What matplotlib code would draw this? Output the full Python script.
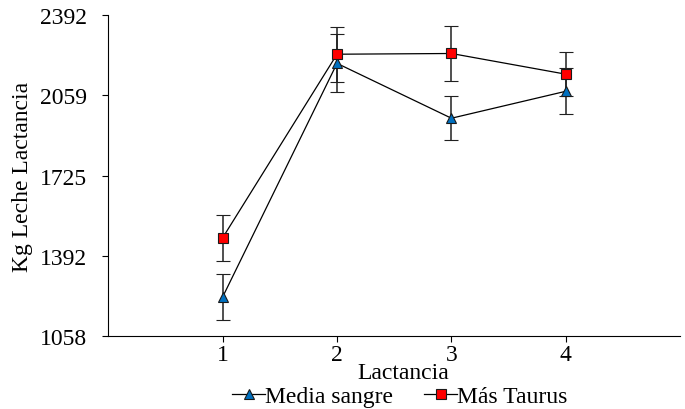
import matplotlib.pyplot as plt
from matplotlib.lines import Line2D

plt.rcParams['font.family'] = ['Liberation Serif', 'DejaVu Serif']

lactancia = [1, 2, 3, 4]
media_sangre = [1220, 2191, 1963, 2075]
media_sangre_err = [97, 120, 92, 95]
mas_taurus = [1466, 2229, 2232, 2146]
mas_taurus_err = [95, 114, 114, 91]
yticks = [1058, 1392, 1725, 2059, 2392]

fig = plt.figure(figsize=(6.85, 4.10), dpi=100)
ax = fig.add_axes([0.158, 0.178, 0.835, 0.783])

ax.errorbar(lactancia, media_sangre, yerr=media_sangre_err, color='black', lw=0.9,
            marker='^', ms=7, mfc='#0070C0', mec='#1a1a1a', mew=0.8,
            ecolor='#202020', elinewidth=1.1, capsize=5, capthick=1.1)
ax.errorbar(lactancia, mas_taurus, yerr=mas_taurus_err, color='black', lw=0.9,
            marker='s', ms=6.5, mfc='#FF0000', mec='#1a1a1a', mew=0.8,
            ecolor='#202020', elinewidth=1.1, capsize=5, capthick=1.1)

ax.set_xlim(0, 5)
ax.set_ylim(1058, 2392)
ax.set_xticks(lactancia)
ax.set_yticks(yticks)
ax.tick_params(labelsize=17, length=4, width=0.8)
ax.tick_params(axis='x', pad=2)
ax.tick_params(axis='y', pad=11)
for s in ['top', 'right']:
    ax.spines[s].set_visible(False)
ax.set_xlabel('Lactancia', fontsize=17)
ax.xaxis.set_label_coords(0.515, -0.082)
ax.set_ylabel('Kg Leche Lactancia', fontsize=17, labelpad=5)

handles = [
    Line2D([], [], color='black', lw=0.9, marker='^', ms=7, mfc='#0070C0', mec='#1a1a1a', mew=0.8),
    Line2D([], [], color='black', lw=0.9, marker='s', ms=6.5, mfc='#FF0000', mec='#1a1a1a', mew=0.8),
]
ax.legend(handles, ['Media sangre', 'Más Taurus'], loc='upper center',
          bbox_to_anchor=(0.51, -0.155), ncol=2, frameon=False, fontsize=17,
          handlelength=1.4, handletextpad=0.0, columnspacing=1.3, borderaxespad=0,
          borderpad=0)

fig.savefig('out.png', dpi=100)
